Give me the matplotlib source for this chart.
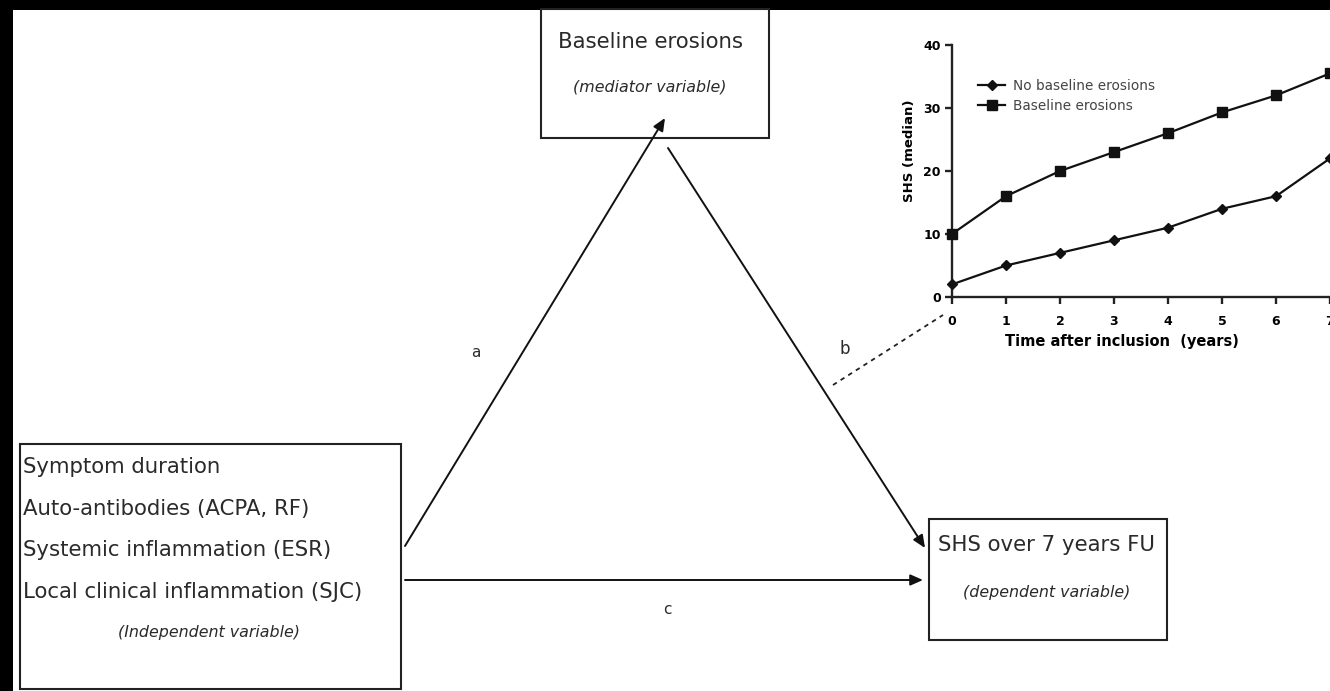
import matplotlib
matplotlib.use("Agg")
import matplotlib.pyplot as plt
from matplotlib.patches import Rectangle, FancyArrowPatch

# ---- data (inset line chart) ----
years = [0, 1, 2, 3, 4, 5, 6, 7]
no_baseline = [2, 5, 7, 9, 11, 14, 16, 22]
baseline = [10, 16, 20, 23, 26, 29.3, 32, 35.5]
series_names = ["No baseline erosions", "Baseline erosions"]
y_ticks = [0, 10, 20, 30, 40]

# ---- diagram texts ----
indep_lines = ["Symptom duration", "Auto-antibodies (ACPA, RF)",
               "Systemic inflammation (ESR)", "Local clinical inflammation (SJC)"]
indep_note = "(Independent variable)"
mediator_title = "Baseline erosions"
mediator_note = "(mediator variable)"
dep_title = "SHS over 7 years FU"
dep_note = "(dependent variable)"
path_labels = ["a", "b", "c"]

W, H = 1330, 691
fig = plt.figure(figsize=(W / 100, H / 100), dpi=100, facecolor="white")

# background diagram axes in pixel coordinates
ax = fig.add_axes([0, 0, 1, 1])
ax.set_xlim(0, W)
ax.set_ylim(H, 0)
ax.axis("off")

# black border strips (top and left)
ax.add_patch(Rectangle((0, 0), W, 10, color="black", lw=0, zorder=0))
ax.add_patch(Rectangle((0, 0), 13, H, color="black", lw=0, zorder=0))

font = "DejaVu Sans"
tcol = "#2a2a2a"
main_fs = 15.3
note_fs = 11.4
box_kw = dict(fill=False, edgecolor="#222222", lw=1.5, zorder=2)

# left box (independent)
ax.add_patch(Rectangle((20, 444), 381, 245, **box_kw))
for i, t in enumerate(indep_lines):
    ax.text(23, 467 + i * 41.5, t, fontsize=main_fs, family=font, va="center", ha="left", color=tcol)
ax.text(209, 632, indep_note, fontsize=note_fs, family=font, style="italic",
        va="center", ha="center", color=tcol)

# mediator box
ax.add_patch(Rectangle((541, 9), 228, 129, **box_kw))
ax.text(650, 42, mediator_title, fontsize=main_fs, family=font, va="center", ha="center", color=tcol)
ax.text(650, 87, mediator_note, fontsize=note_fs, family=font, style="italic",
        va="center", ha="center", color=tcol)

# dependent box
ax.add_patch(Rectangle((929, 519), 238, 121, **box_kw))
ax.text(1047, 545, dep_title, fontsize=main_fs, family=font, va="center", ha="center", color=tcol)
ax.text(1047, 593, dep_note, fontsize=note_fs, family=font, style="italic",
        va="center", ha="center", color=tcol)

# arrows
arrow_kw = dict(arrowstyle="-|>,head_length=5,head_width=2.2", color="#111111", lw=1.4,
                mutation_scale=1.5, zorder=3, shrinkA=0, shrinkB=0)
ax.add_patch(FancyArrowPatch((405, 546), (665, 118), **arrow_kw))
ax.add_patch(FancyArrowPatch((668, 148), (925, 548), **arrow_kw))
ax.add_patch(FancyArrowPatch((405, 580), (923, 580), **arrow_kw))

ax.text(476, 352, path_labels[0], fontsize=11, family=font, ha="center", va="center", color=tcol)
ax.text(845, 349, path_labels[1], fontsize=12, family=font, ha="center", va="center", color=tcol)
ax.text(667, 610, path_labels[2], fontsize=11, family=font, ha="center", va="center", color=tcol)

# dashed connector
ax.plot([833, 943], [385, 315], ls=(0, (2.5, 2.5)), color="#222222", lw=1.3, zorder=3)

# ---- inset chart ----
px_per_unit = 54.0
x0_px, y0_px, ytop_px = 952, 297, 45
xmax = 7.4
ax_w_px = xmax * px_per_unit
ax_h_px = y0_px - ytop_px
iax = fig.add_axes([x0_px / W, (H - y0_px) / H, ax_w_px / W, ax_h_px / H])
iax.set_xlim(0, xmax)
iax.set_ylim(0, 40)
iax.patch.set_alpha(0)
for s in ["top", "right"]:
    iax.spines[s].set_visible(False)
for s in ["left", "bottom"]:
    iax.spines[s].set_linewidth(1.7)
    iax.spines[s].set_color("#222222")
iax.set_xticks(years)
iax.set_yticks(y_ticks)
iax.tick_params(width=1.7, length=5, color="#222222", labelsize=9)
iax.tick_params(axis="x", pad=8)
iax.tick_params(axis="y", pad=3)
for lbl in iax.get_xticklabels() + iax.get_yticklabels():
    lbl.set_fontweight("bold")
    lbl.set_family("DejaVu Sans")

iax.plot(years, no_baseline, marker="D", ms=5, color="#111111", lw=1.6,
         label=series_names[0], clip_on=False, zorder=4)
iax.plot(years, baseline, marker="s", ms=7, color="#111111", lw=1.6,
         label=series_names[1], clip_on=False, zorder=4)
iax.set_ylabel("SHS (median)", fontsize=9.5, fontweight="bold", family="DejaVu Sans")
iax.yaxis.set_label_coords(-36 / ax_w_px, 0.58)
iax.set_xlabel("Time after inclusion  (years)", fontsize=10.5, fontweight="bold", family="DejaVu Sans")
iax.xaxis.set_label_coords((1122 - x0_px) / ax_w_px, -45 / ax_h_px)
iax.xaxis.label.set_va("center")
leg = iax.legend(loc="upper left", bbox_to_anchor=(26 / ax_w_px, (y0_px - 79) / ax_h_px), frameon=False,
                 prop={"family": "DejaVu Sans", "size": 9.8}, handlelength=2.0,
                 handletextpad=0.6, labelspacing=0.45, borderaxespad=0, borderpad=0)
for t in leg.get_texts():
    t.set_color("#444444")

fig.savefig("out.png", dpi=100, facecolor="white")
